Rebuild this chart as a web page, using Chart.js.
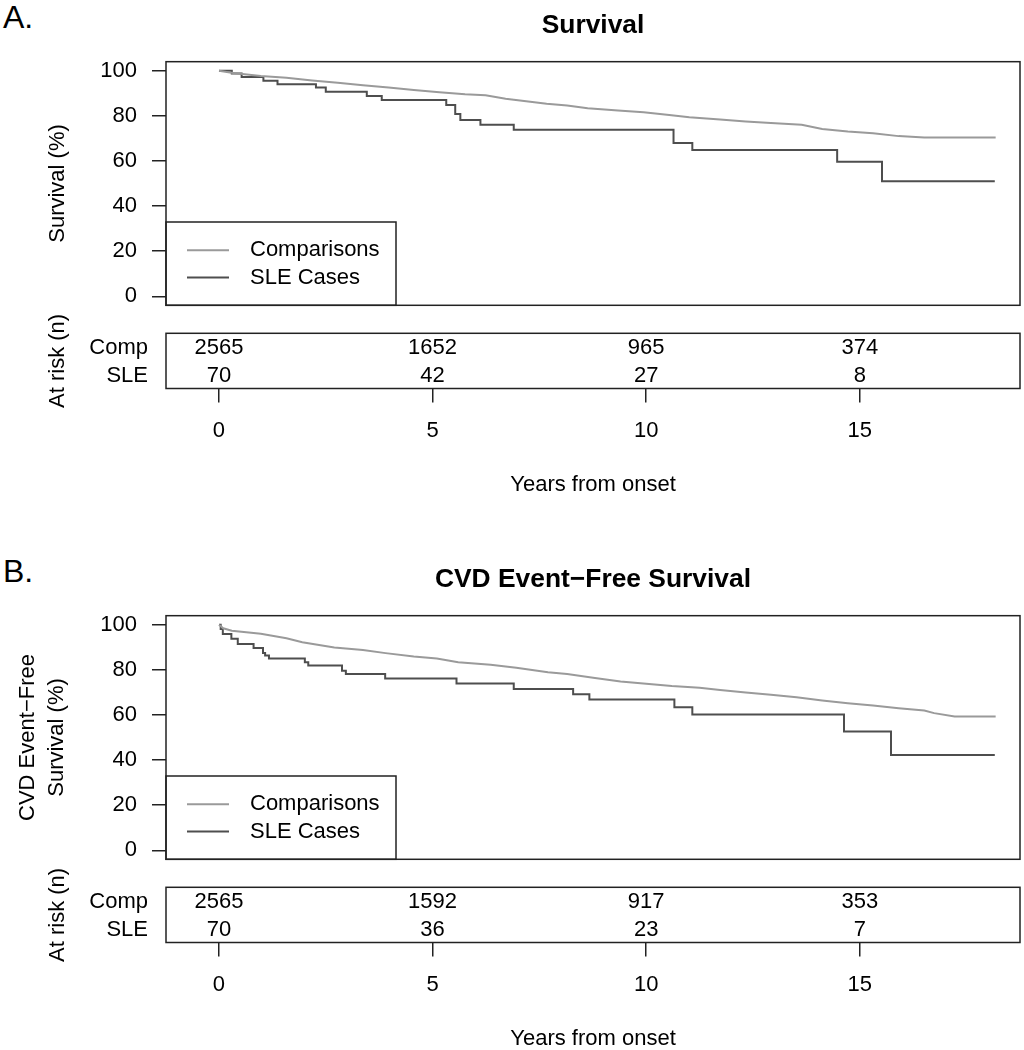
<!DOCTYPE html>
<html>
<head>
<meta charset="utf-8">
<title>Survival and CVD event-free survival</title>
<script src="https://cdn.jsdelivr.net/npm/chart.js@4.4.1/dist/chart.umd.min.js"></script>
<style>
  html, body { margin: 0; padding: 0; background: #fff; overflow: hidden; }
  body { width: 1024px; height: 1050px; position: relative; font-family: 'Liberation Sans', Arial, sans-serif; }
  .tag { position: absolute; left: 3px; font-size: 32px; line-height: 1; color: #000; }
  .wrap { position: absolute; left: 0; width: 1024px; }
</style>
</head>
<body>
<div class="tag" style="top:1px">A.</div>
<div class="tag" style="top:555px">B.</div>
<div class="wrap" style="top:0px;height:334px"><canvas id="survA"></canvas></div>
<div class="wrap" style="top:290px;height:240px"><canvas id="riskA"></canvas></div>
<div class="wrap" style="top:554px;height:334px"><canvas id="survB"></canvas></div>
<div class="wrap" style="top:844px;height:240px"><canvas id="riskB"></canvas></div>

<script>
// axis ticks and table rows
const yTicks = [0, 20, 40, 60, 80, 100];
const xTicks = [0, 5, 10, 15];
const riskRows = ['Comp', 'SLE'];

// A. overall survival (years, %)
const compTimesA = [0, 0.33, 0.98, 1.58, 2.18, 2.78, 3.37, 3.97, 4.56, 5.16, 5.76, 6.24, 6.71, 7.19, 7.67, 8.15, 8.63, 9.34, 9.94, 10.54, 11.01, 11.73, 12.33, 12.92, 13.64, 14.12, 14.72, 15.31, 15.91, 16.51, 18.18];
const compSurvA = [100, 99.0, 97.6, 96.9, 95.7, 94.7, 93.5, 92.5, 91.4, 90.5, 89.6, 89.1, 87.6, 86.5, 85.3, 84.6, 83.4, 82.4, 81.6, 80.4, 79.4, 78.4, 77.5, 76.8, 76.0, 74.2, 73.1, 72.3, 71.0, 70.4, 70.4];
const sleTimesA = [0, 0.30, 0.53, 1.04, 1.37, 2.27, 2.50, 3.46, 3.81, 5.32, 5.53, 5.65, 6.12, 6.90, 10.64, 11.08, 14.47, 15.52, 18.16];
const sleSurvA = [100, 98.8, 97.2, 95.6, 94.0, 92.5, 90.7, 88.8, 87.0, 84.8, 80.8, 78.2, 76.0, 73.8, 67.9, 64.8, 59.6, 51.0, 51.0];
const compRiskA = [2565, 1652, 965, 374];
const sleRiskA = [70, 42, 27, 8];

// B. CVD event-free survival (years, %)
const compTimesB = [0, 0.10, 0.30, 0.98, 1.58, 1.95, 2.70, 3.37, 3.90, 4.56, 5.10, 5.60, 6.36, 6.96, 7.70, 8.15, 8.80, 9.40, 10.60, 11.25, 11.73, 12.33, 12.92, 13.52, 14.12, 14.72, 15.31, 15.91, 16.51, 16.74, 17.22, 18.18];
const compSurvB = [100, 98.4, 97.3, 96.0, 94.0, 92.2, 89.9, 88.8, 87.4, 85.9, 85.0, 83.4, 82.2, 80.9, 78.9, 78.1, 76.4, 74.8, 72.8, 72.0, 71.1, 69.9, 68.9, 67.8, 66.4, 65.2, 64.2, 63.0, 62.0, 60.8, 59.3, 59.3];
const sleTimesB = [0, 0.04, 0.09, 0.29, 0.44, 0.81, 1.03, 1.08, 1.17, 2.01, 2.09, 2.88, 2.97, 3.89, 5.56, 6.90, 8.29, 8.67, 10.66, 11.08, 14.63, 15.73, 18.16];
const sleSurvB = [100, 98.1, 95.9, 93.8, 91.4, 89.7, 87.5, 86.4, 85.0, 83.3, 81.9, 79.6, 78.2, 76.1, 73.9, 71.5, 69.2, 66.8, 63.4, 60.2, 52.7, 42.2, 42.2];
const compRiskB = [2565, 1592, 917, 353];
const sleRiskB = [70, 36, 23, 7];

Chart.defaults.font.family = "'Liberation Sans', Arial, sans-serif";
Chart.defaults.color = '#000';

const X_MIN = -1.24, X_MAX = 18.75;
const FRAME = '#222';

// box round the plot area
const boxFrame = {
    id: 'boxFrame',
    afterDraw(chart) {
        const { ctx, chartArea: a } = chart;
        ctx.save();
        ctx.strokeStyle = FRAME;
        ctx.lineWidth = 1.5;
        ctx.strokeRect(a.left, a.top, a.right - a.left, a.bottom - a.top);
        ctx.restore();
    }
};

// R style boxed legend in the lower left corner
const survLegend = {
    id: 'survLegend',
    afterDatasetsDraw(chart, args, opts) {
        const { ctx, chartArea: a } = chart;
        const top = a.bottom - opts.height;
        ctx.save();
        ctx.fillStyle = '#fff';
        ctx.fillRect(a.left, top, opts.width, opts.height);
        ctx.strokeStyle = FRAME;
        ctx.lineWidth = 1.5;
        ctx.strokeRect(a.left, top, opts.width, opts.height);
        ctx.font = "22px 'Liberation Sans', Arial, sans-serif";
        ctx.textBaseline = 'middle';
        chart.data.datasets.forEach((ds, i) => {
            const y = top + opts.firstRow + i * opts.rowGap;
            ctx.strokeStyle = ds.borderColor;
            ctx.lineWidth = ds.borderWidth;
            ctx.beginPath();
            ctx.moveTo(a.left + opts.lineStart, y);
            ctx.lineTo(a.left + opts.lineEnd, y);
            ctx.stroke();
            ctx.fillStyle = '#000';
            ctx.fillText(ds.label, a.left + opts.textStart, y);
        });
        ctx.restore();
    }
};

// numbers at risk written at each point of the table chart
const riskNumbers = {
    id: 'riskNumbers',
    afterDatasetsDraw(chart) {
        const { ctx } = chart;
        ctx.save();
        ctx.font = "22px 'Liberation Sans', Arial, sans-serif";
        ctx.fillStyle = '#000';
        ctx.textAlign = 'center';
        ctx.textBaseline = 'middle';
        chart.data.datasets.forEach((ds, di) => {
            chart.getDatasetMeta(di).data.forEach((pt, i) => {
                ctx.fillText(String(ds.data[i].n), pt.x, pt.y);
            });
        });
        ctx.restore();
    }
};

function toPoints(times, values) {
    return times.map((t, i) => ({ x: t, y: values[i] }));
}

function survivalChart(id, title, yTitle, yTitlePad, compT, compS, sleT, sleS) {
    return new Chart(document.getElementById(id), {
        type: 'scatter',
        data: {
            datasets: [
                { label: 'Comparisons', data: toPoints(compT, compS), showLine: true,
                  borderColor: '#9a9a9a', borderWidth: 2, pointRadius: 0 },
                { label: 'SLE Cases', data: toPoints(sleT, sleS), showLine: true, stepped: true,
                  borderColor: '#4e4e4e', borderWidth: 2, pointRadius: 0 }
            ]
        },
        options: {
            responsive: true,
            maintainAspectRatio: false,
            animation: false,
            events: [],
            layout: { padding: { left: 0, right: 4, top: 0, bottom: 28.7 } },
            plugins: {
                legend: { display: false },
                tooltip: { enabled: false },
                title: {
                    display: true, text: title, fullSize: false, color: '#000',
                    font: { size: 26.4, weight: 'bold' },
                    padding: { top: 10, bottom: 20 }
                },
                survLegend: { width: 230, height: 83.3, firstRow: 28.3, rowGap: 27.3,
                              lineStart: 21, lineEnd: 63, textStart: 84 }
            },
            scales: {
                x: { type: 'linear', min: X_MIN, max: X_MAX, display: false },
                y: {
                    type: 'linear', min: -4, max: 104,
                    afterBuildTicks: s => { s.ticks = yTicks.map(v => ({ value: v })); },
                    afterFit: s => { s.width = 166; },
                    border: { display: false },
                    grid: { drawOnChartArea: false, drawTicks: true, tickLength: 14, color: FRAME, lineWidth: 1.5 },
                    ticks: { color: '#000', font: { size: 22 }, padding: 15 },
                    title: {
                        display: true, text: yTitle, color: '#000',
                        font: { size: 22, lineHeight: 29 / 22 },
                        padding: { top: yTitlePad, bottom: 0 }
                    }
                }
            }
        },
        plugins: [boxFrame, survLegend]
    });
}

function riskChart(id, compRisk, sleRisk) {
    return new Chart(document.getElementById(id), {
        type: 'scatter',
        data: {
            datasets: [
                { label: riskRows[0], data: xTicks.map((t, i) => ({ x: t, y: 2, n: compRisk[i] })), pointRadius: 0 },
                { label: riskRows[1], data: xTicks.map((t, i) => ({ x: t, y: 1, n: sleRisk[i] })), pointRadius: 0 }
            ]
        },
        options: {
            responsive: true,
            maintainAspectRatio: false,
            animation: false,
            events: [],
            layout: { padding: { left: 0, right: 4, top: 43.3, bottom: 31.4 } },
            plugins: {
                legend: { display: false },
                tooltip: { enabled: false },
                // x axis caption, kept as a bottom title so the axis box stays small
                title: {
                    display: true, position: 'bottom', fullSize: false, text: 'Years from onset',
                    color: '#000', font: { size: 22, weight: 'normal' },
                    padding: { top: 13.7, bottom: 0 }
                }
            },
            scales: {
                x: {
                    type: 'linear', min: X_MIN, max: X_MAX,
                    afterBuildTicks: s => { s.ticks = xTicks.map(v => ({ value: v })); },
                    border: { display: false },
                    grid: { drawOnChartArea: false, drawTicks: true, tickLength: 14, color: FRAME, lineWidth: 1.5 },
                    ticks: { color: '#000', font: { size: 22 }, padding: 14.8, maxRotation: 0 }
                },
                y: {
                    type: 'linear', min: 0.546, max: 2.525,
                    afterBuildTicks: s => { s.ticks = [{ value: 2 }, { value: 1 }]; },
                    afterFit: s => { s.width = 166; },
                    border: { display: false },
                    grid: { display: false, drawTicks: false, tickLength: 0 },
                    ticks: { color: '#000', font: { size: 22 }, padding: 18,
                             callback: v => riskRows[2 - v] },
                    title: { display: true, text: 'At risk (n)', color: '#000',
                             font: { size: 22 }, padding: { top: 44.8, bottom: 0 } }
                }
            }
        },
        plugins: [boxFrame, riskNumbers]
    });
}

survivalChart('survA', 'Survival', 'Survival (%)', 43.8, compTimesA, compSurvA, sleTimesA, sleSurvA);
riskChart('riskA', compRiskA, sleRiskA);
survivalChart('survB', 'CVD Event\u2212Free Survival', ['CVD Event\u2212Free', 'Survival (%)'], 13.5,
              compTimesB, compSurvB, sleTimesB, sleSurvB);
riskChart('riskB', compRiskB, sleRiskB);
</script>
</body>
</html>
